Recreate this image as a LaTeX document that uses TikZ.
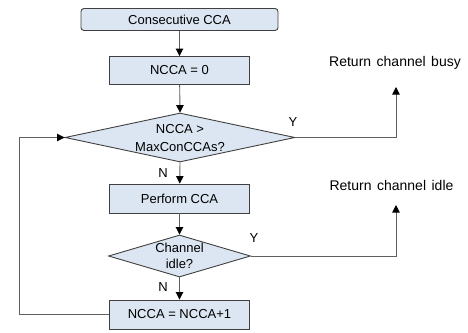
\documentclass[tikz,border=0pt]{standalone}
\usepackage{fontspec}
\setmainfont{Liberation Sans}
\usetikzlibrary{shapes.geometric,arrows.meta}
\definecolor{boxfill}{HTML}{DCE6F2}
\definecolor{boxline}{HTML}{404040}
\definecolor{wire}{HTML}{606060}
\tikzset{
  procbox/.style={draw=boxline, fill=boxfill, line width=0.9pt, minimum width=140pt, minimum height=28pt, inner sep=0pt, font=\fontsize{13}{15}\selectfont},
  startbox/.style={procbox, rounded corners=3pt, minimum width=197pt, minimum height=22pt},
  decision/.style={draw=boxline, fill=boxfill, line width=0.9pt, shape=diamond, inner sep=0pt},
  dtext/.style={align=center, inner sep=0pt, font=\fontsize{13}{18}\selectfont},
  flow/.style={draw=wire, line width=0.9pt, -{Triangle[length=7.5pt,width=7.5pt,fill=black,color=black]}},
  yn/.style={font=\fontsize{13}{15}\selectfont, inner sep=0pt},
  result/.style={font=\fontsize{14}{16}\selectfont, inner sep=0pt},
}
\newcommand{\wsp}{\hspace{5.5pt}}
\begin{document}
\begin{tikzpicture}[x=1pt, y=-1pt]
\useasboundingbox (0,0) rectangle (468,332);
% process steps
\node[startbox] (start) at (179.5,19.5) {Consecutive CCA};
\node[procbox] (init) at (179.5,70.5) {NCCA = 0};
\node[decision, minimum width=230pt, minimum height=49pt] (chk) at (180,137.5) {};
\node[dtext] (chkt) at (180,138) {NCCA >\\MaxConCCAs?};
\node[procbox, minimum height=29pt] (cca) at (179.5,198.5) {Perform CCA};
\node[decision, minimum width=142pt, minimum height=42pt] (idle) at (179.5,256) {};
\node[dtext, font=\fontsize{13}{15.5}\selectfont] (idlet) at (179.5,256) {Channel\\idle?};
\node[procbox, minimum height=29pt] (inc) at (179.5,314.5) {NCCA = NCCA+1};
% outcomes
\node[result] (busy) at (395,63) {Return\wsp channel\wsp busy};
\node[result] (free) at (391.5,185) {Return\wsp channel\wsp idle};
\coordinate (busyin) at (396,87);
\coordinate (freein) at (396,205);
\coordinate (loopc) at (19,314.5);
% main flow
\draw[flow] (start) -- (init);
\draw[flow] (init) -- (chk.north);
\draw[flow] (chk.south) -- (cca);
\draw[flow] (cca) -- (idle.north);
\draw[flow] (idle.south) -- (inc);
% exits
\draw[flow] (chk.east) -| (busyin);
\draw[flow] (idle.east) -| (freein);
% retry loop
\draw[flow] (inc.west) -- (loopc) |- (chk.west);
% branch labels
\node[yn] (y1) at (293,122) {Y};
\node[yn] (n1) at (163,173) {N};
\node[yn] (y2) at (254,238) {Y};
\node[yn] (n2) at (163,287) {N};
\end{tikzpicture}
\end{document}
